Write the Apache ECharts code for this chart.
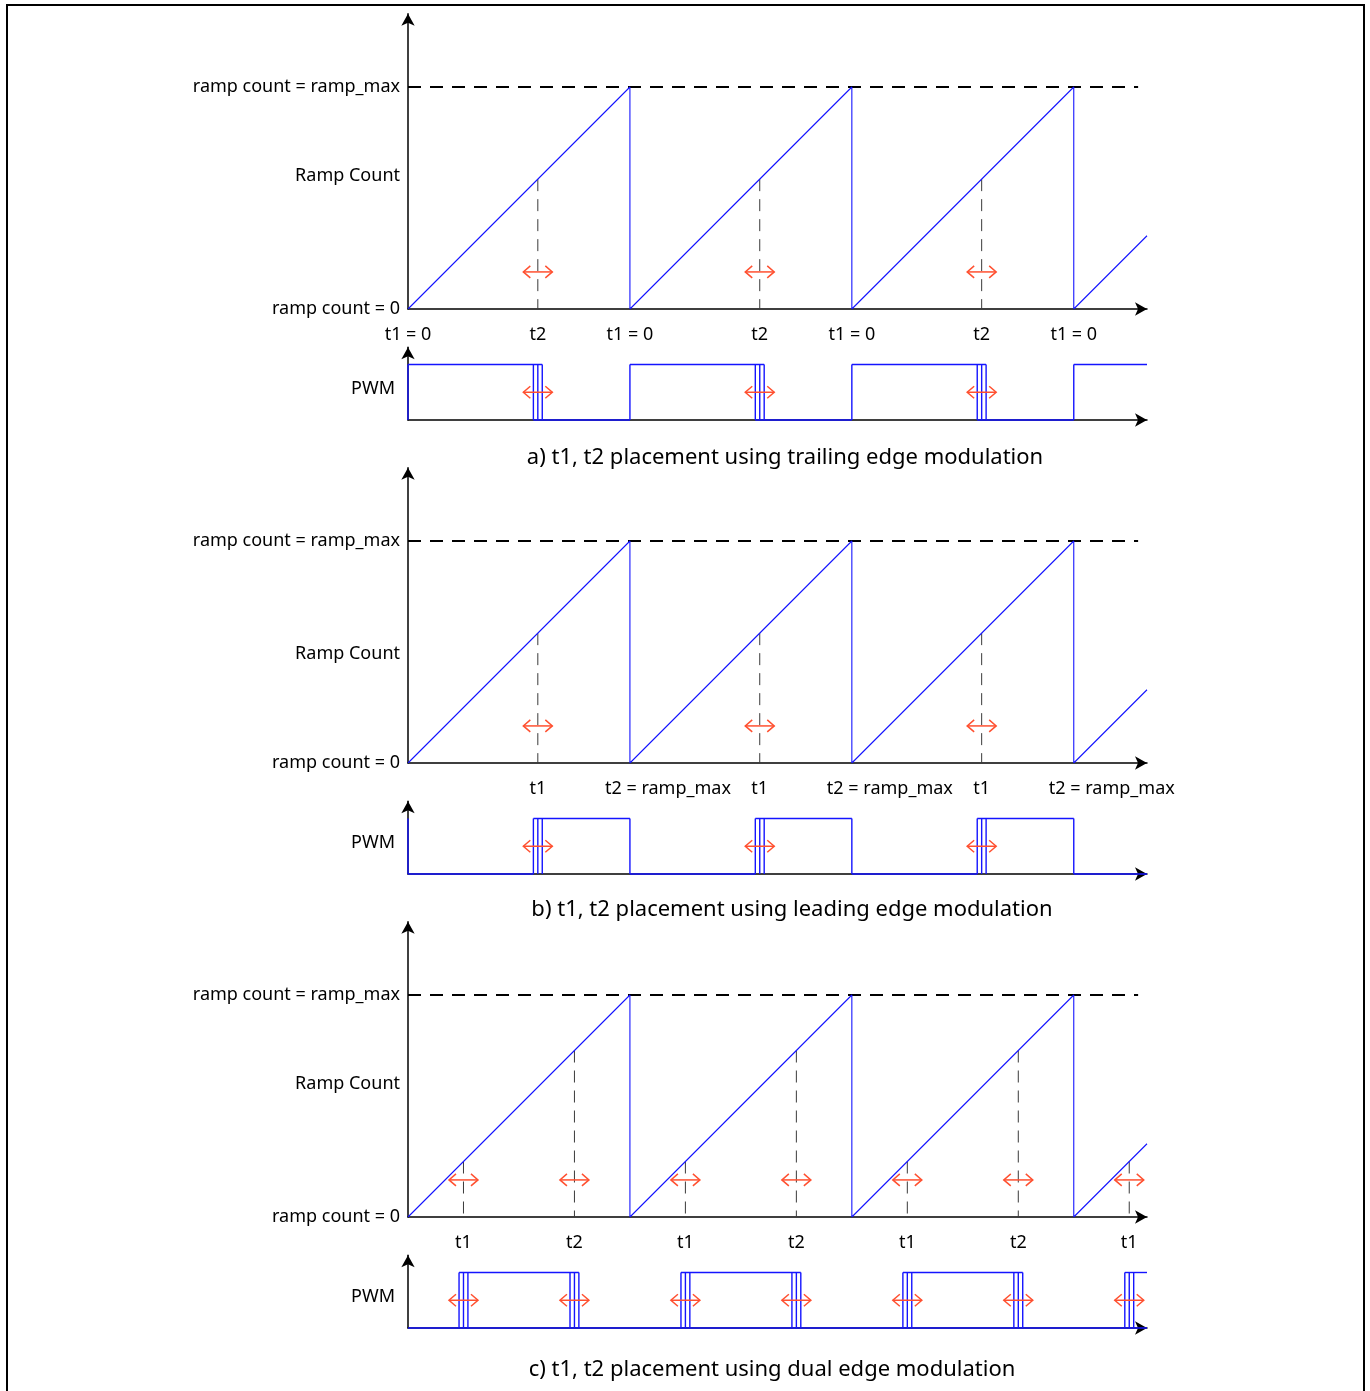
<!DOCTYPE html>
<html>
<head>
<meta charset="utf-8">
<script src="https://cdn.jsdelivr.net/npm/echarts@6/dist/echarts.min.js"></script>
<style>
  html, body { margin: 0; padding: 0; background: #fff; }
  #chart { width: 1370px; height: 1391px; }
</style>
</head>
<body>
<div id="chart"></div>
<script>
// ---- timing data (one PWM period = 100 counts, ramp climbs 0 .. ramp_max) ----
const PERIOD = 100;
const RAMP_MAX = 100;
const X_END = 333;                 // the time axis shows three periods and a third
const DASH_END = 329;              // end of the ramp_max reference line
const periodStarts = [0, 100, 200, 300];
const EDGE_SPREAD = 2;             // spread of the moving edge (drawn as three lines)
const ARROW_LEVEL_RAMP = 16.7;     // height of the red "moves" arrows on the ramp plots
const ARROW_LEVEL_PWM = 0.5;       // height of the red arrows on the PWM plots
const PWM_HIGH = 1;

const trailT2 = 58.5;              // a) trailing edge: t1 = 0, t2 moves
const leadT1 = 58.5;               // b) leading edge: t1 moves, t2 = ramp_max
const dualT1 = 25;                 // c) dual edge: both move
const dualT2 = 75;

const rampNameAt = [60, 49, 60];   // where "Ramp Count" sits on each ramp axis
const pwmNameAt = 0.56;

const captions = [
  'a) t1, t2 placement using trailing edge modulation',
  'b) t1, t2 placement using leading edge modulation',
  'c) t1, t2 placement using dual edge modulation'
];

// ---- layout ----
const FONT = '"Noto Sans", sans-serif';
const BLUE = '#1414ff';
const RED = '#ff5030';
const PLOT_LEFT = 408, PLOT_WIDTH = 739;
const RAMP_ZERO_Y = [309, 763, 1217];
const PWM_BASE_Y = [420, 874, 1328];
const RAMP_PX = 2.22, RAMP_TOP_VAL = 133;
const PWM_PX = 55.5, PWM_TOP_VAL = 1.31;
const CAPTION_POS = [[785, 458], [792, 910], [772, 1370]];

// ---- derived geometry ----
const rampAt = t => ((t % PERIOD) / PERIOD) * RAMP_MAX;
const inView = t => t < X_END;

function rampPoints() {
  const pts = [];
  periodStarts.forEach(s => {
    const e = Math.min(s + PERIOD, X_END);
    pts.push([s, 0]);
    pts.push([e, ((e - s) / PERIOD) * RAMP_MAX]);
    if (e === s + PERIOD) pts.push([e, 0]);
  });
  return pts;
}

function edgeTriplet(t, segs) {
  [t - EDGE_SPREAD, t, t + EDGE_SPREAD].forEach(x => segs.push([x, 0, x, PWM_HIGH]));
}

function pwmTrailing() {
  const segs = [];
  periodStarts.forEach(s => {
    const e = Math.min(s + PERIOD, X_END);
    const off = s + trailT2;
    segs.push([s, 0, s, PWM_HIGH]);
    if (inView(off)) {
      segs.push([s, PWM_HIGH, off + EDGE_SPREAD, PWM_HIGH]);
      edgeTriplet(off, segs);
      segs.push([off - EDGE_SPREAD, 0, e, 0]);
    } else {
      segs.push([s, PWM_HIGH, e, PWM_HIGH]);
    }
  });
  return segs;
}

function pwmLeading() {
  const segs = [];
  periodStarts.forEach(s => {
    const e = Math.min(s + PERIOD, X_END);
    const on = s + leadT1;
    if (inView(on)) {
      segs.push([s, 0, on - EDGE_SPREAD, 0]);
      edgeTriplet(on, segs);
      segs.push([on - EDGE_SPREAD, PWM_HIGH, e, PWM_HIGH]);
      segs.push([e, PWM_HIGH, e, 0]);
    } else {
      segs.push([s, 0, e, 0]);
    }
  });
  segs.push([0, 0, 0, PWM_HIGH]);
  return segs;
}

function pwmDual() {
  const segs = [[0, 0, X_END, 0]];
  periodStarts.forEach(s => {
    const on = s + dualT1, off = s + dualT2;
    if (inView(on)) {
      edgeTriplet(on, segs);
      segs.push([on - EDGE_SPREAD, PWM_HIGH, Math.min(off + EDGE_SPREAD, X_END), PWM_HIGH]);
    }
    if (inView(off)) edgeTriplet(off, segs);
  });
  return segs;
}

function times(offsets) {
  const out = [];
  periodStarts.forEach(s => offsets.forEach(o => { if (inView(s + o)) out.push(s + o); }));
  return out.sort((a, b) => a - b);
}

const panels = [
  {
    moving: times([trailT2]),
    ticks: periodStarts.map(s => [s, 't1 = 0']).concat(times([trailT2]).map(t => [t, 't2'])),
    pwm: pwmTrailing()
  },
  {
    moving: times([leadT1]),
    ticks: times([leadT1]).map(t => [t, 't1'])
      .concat(periodStarts.filter(s => s > 0).map(s => [s, '{shift|t2 = ramp_max}'])),
    pwm: pwmLeading()
  },
  {
    moving: times([dualT1, dualT2]),
    ticks: times([dualT1]).map(t => [t, 't1']).concat(times([dualT2]).map(t => [t, 't2'])),
    pwm: pwmDual()
  }
];

// ---- renderers ----
function dashedDrop(params, api) {
  const a = api.coord([api.value(0), api.value(1)]);
  const b = api.coord([api.value(0), 0]);
  return {
    type: 'line',
    shape: { x1: a[0], y1: a[1], x2: b[0], y2: b[1] },
    style: { stroke: '#3a3a3a', lineWidth: 1, lineDash: [12, 8] }
  };
}

function doubleArrow(params, api) {
  const c = api.coord([api.value(0), api.value(1)]);
  const hw = 14.5, hl = 7, hh = 6;
  const st = { stroke: RED, lineWidth: 1.5, fill: null };
  return {
    type: 'group',
    children: [
      { type: 'line', shape: { x1: c[0] - hw, y1: c[1], x2: c[0] + hw, y2: c[1] }, style: st },
      { type: 'polyline', shape: { points: [[c[0] - hw + hl, c[1] - hh], [c[0] - hw, c[1]], [c[0] - hw + hl, c[1] + hh]] }, style: st },
      { type: 'polyline', shape: { points: [[c[0] + hw - hl, c[1] - hh], [c[0] + hw, c[1]], [c[0] + hw - hl, c[1] + hh]] }, style: st }
    ]
  };
}

function segment(params, api) {
  const a = api.coord([api.value(0), api.value(1)]);
  const b = api.coord([api.value(2), api.value(3)]);
  return {
    type: 'line',
    shape: { x1: a[0], y1: a[1], x2: b[0], y2: b[1] },
    style: { stroke: BLUE, lineWidth: 1.4 }
  };
}

// ---- option ----
const grids = [], xAxes = [], yAxes = [], series = [];
const axisLine = {
  show: true,
  symbol: ['none', 'arrow'],
  symbolSize: [10, 12],
  lineStyle: { color: '#000', width: 1.5 }
};
const labelText = { color: '#000', fontFamily: FONT, fontSize: 18 };

panels.forEach((p, i) => {
  const rg = 2 * i, pg = 2 * i + 1;
  grids.push({ left: PLOT_LEFT, width: PLOT_WIDTH, top: RAMP_ZERO_Y[i] - RAMP_TOP_VAL * RAMP_PX, height: RAMP_TOP_VAL * RAMP_PX });
  grids.push({ left: PLOT_LEFT, width: PLOT_WIDTH, top: PWM_BASE_Y[i] - PWM_TOP_VAL * PWM_PX, height: PWM_TOP_VAL * PWM_PX });

  const tickMap = new Map(p.ticks.map(([v, s]) => [v.toFixed(2), s]));
  xAxes.push({
    type: 'value', gridIndex: rg, min: 0, max: X_END,
    axisLine, axisTick: { show: false }, splitLine: { show: false },
    axisLabel: {
      ...labelText, margin: 17,
      customValues: p.ticks.map(t => t[0]),
      formatter: v => tickMap.get(Number(v).toFixed(2)) || '',
      rich: { shift: { ...labelText, padding: [0, 0, 0, 76] } }
    }
  });
  xAxes.push({
    type: 'value', gridIndex: pg, min: 0, max: X_END,
    axisLine, axisTick: { show: false }, splitLine: { show: false }, axisLabel: { show: false }
  });

  yAxes.push({
    type: 'value', gridIndex: rg, min: 0, max: RAMP_TOP_VAL,
    axisLine, axisTick: { show: false }, splitLine: { show: false },
    axisLabel: {
      ...labelText, margin: 8,
      customValues: [0, rampNameAt[i], RAMP_MAX],
      formatter: v => v === 0 ? 'ramp count = 0' : (v === RAMP_MAX ? 'ramp count = ramp_max' : 'Ramp Count')
    }
  });
  yAxes.push({
    type: 'value', gridIndex: pg, min: 0, max: PWM_TOP_VAL,
    axisLine, axisTick: { show: false }, splitLine: { show: false },
    axisLabel: { ...labelText, margin: 13, customValues: [pwmNameAt], formatter: () => 'PWM' }
  });

  series.push({
    type: 'line', xAxisIndex: rg, yAxisIndex: rg, data: [[0, RAMP_MAX], [DASH_END, RAMP_MAX]],
    symbol: 'none', silent: true, lineStyle: { color: '#000', width: 2, type: [13, 9] }
  });
  series.push({
    type: 'custom', xAxisIndex: rg, yAxisIndex: rg, renderItem: dashedDrop,
    data: p.moving.map(t => [t, rampAt(t)])
  });
  series.push({
    type: 'line', xAxisIndex: rg, yAxisIndex: rg, data: rampPoints(),
    symbol: 'none', silent: true, z: 3, lineStyle: { color: BLUE, width: 1.1 }
  });
  series.push({
    type: 'custom', xAxisIndex: rg, yAxisIndex: rg, renderItem: doubleArrow, z: 4,
    data: p.moving.map(t => [t, ARROW_LEVEL_RAMP])
  });
  series.push({
    type: 'custom', xAxisIndex: pg, yAxisIndex: pg, renderItem: segment, z: 3,
    encode: { x: [0, 2], y: [1, 3] }, data: p.pwm
  });
  series.push({
    type: 'custom', xAxisIndex: pg, yAxisIndex: pg, renderItem: doubleArrow, z: 4,
    data: p.moving.map(t => [t, ARROW_LEVEL_PWM])
  });
});

const graphics = [{
  type: 'rect', silent: true,
  shape: { x: 7, y: 5, width: 1357, height: 1400 },
  style: { fill: 'transparent', stroke: '#000', lineWidth: 2 }
}].concat(captions.map((c, i) => ({
  type: 'text', silent: true, x: CAPTION_POS[i][0], y: CAPTION_POS[i][1],
  style: { text: c, fill: '#000', font: '22px ' + FONT, textAlign: 'center', textVerticalAlign: 'middle' }
})));

const chart = echarts.init(document.getElementById('chart'), null, { renderer: 'canvas' });
chart.setOption({
  animation: false,
  backgroundColor: '#fff',
  grid: grids,
  xAxis: xAxes,
  yAxis: yAxes,
  series,
  graphic: graphics
});
</script>
</body>
</html>
